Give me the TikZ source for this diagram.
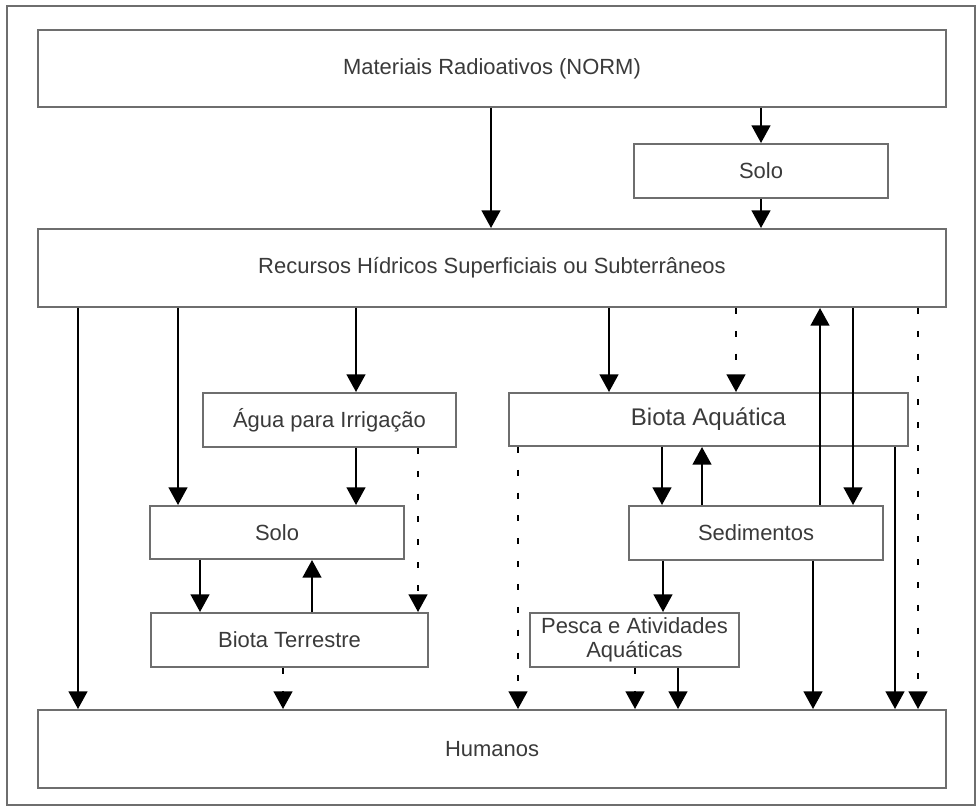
\documentclass[tikz,border=0pt]{standalone}
\usepackage{fontspec}
\setmainfont{Liberation Sans}
\usepackage{tikz}
\usetikzlibrary{arrows.meta}
\definecolor{boxgray}{HTML}{6E6E6E}
\definecolor{txtgray}{HTML}{3A3A3A}
\tikzstyle{block} = [draw=boxgray, line width=1.1pt, fill=white, rectangle, text=txtgray, inner sep=0pt, font=\fontsize{12.5}{13.7}\selectfont]
\tikzstyle{flow} = [->, line width=1.5pt]
\tikzstyle{maybe} = [->, line width=1.5pt, dash pattern=on 3.4pt off 9.6pt]

\begin{document}
\begin{tikzpicture}[>={Triangle[length=10pt,width=10.5pt]}, x=0.02cm, y=-0.02cm]
    \useasboundingbox (0,0) rectangle (979,808);
    \draw[boxgray, line width=1pt] (7,6) rectangle (975,805);
    \node[block, minimum width=18.16cm, minimum height=1.54cm] (norm) at (492,68.5) {Materiais Radioativos (NORM)};
    \node[block, minimum width=5.08cm, minimum height=1.08cm] (solot) at (761,171) {Solo};
    \node[block, minimum width=18.16cm, minimum height=1.56cm] (rec) at (492,268) {Recursos Hídricos Superficiais ou Subterrâneos};
    \node[block, minimum width=5.06cm, minimum height=1.08cm] (agua) at (329.5,420) {Água para Irrigação};
    \node[block, minimum width=7.98cm, minimum height=1.06cm, font=\fontsize{13.7}{15}\selectfont] (biotaaq) at (708.5,419.5) {Biota Aquática};
    \node[block, minimum width=5.08cm, minimum height=1.06cm] (solob) at (277,532.5) {Solo};
    \node[block, minimum width=5.08cm, minimum height=1.08cm] (sed) at (756,533) {Sedimentos};
    \node[block, minimum width=5.54cm, minimum height=1.08cm] (biotat) at (289.5,640) {Biota Terrestre};
    \node[block, minimum width=4.18cm, minimum height=1.08cm, align=center] (pesca) at (634.5,640) {Pesca e Atividades\\Aquáticas};
    \node[block, minimum width=18.16cm, minimum height=1.56cm] (hum) at (492,749) {Humanos};
    % upper part
    \draw[flow] (norm.south -| 491,0) -- (rec.north -| 491,0);
    \draw[flow] (solot.north |- norm.south) -- (solot.north);
    \draw[flow] (solot.south) -- (solot.south |- rec.north);
    % from water resources
    \draw[flow] (rec.south -| 78,0) -- (hum.north -| 78,0);
    \draw[flow] (rec.south -| 178,0) -- (solob.north -| 178,0);
    \draw[flow] (rec.south -| 356,0) -- (agua.north -| 356,0);
    \draw[flow] (rec.south -| 609,0) -- (biotaaq.north -| 609,0);
    \draw[maybe] (rec.south -| 736,0) -- (biotaaq.north -| 736,0);
    \draw[flow] (sed.north -| 820,0) -- (rec.south -| 820,0);
    \draw[flow] (rec.south -| 853,0) -- (sed.north -| 853,0);
    \draw[maybe] (rec.south -| 918,0) -- (hum.north -| 918,0);
    % terrestrial side
    \draw[flow] (agua.south -| 356,0) -- (solob.north -| 356,0);
    \draw[maybe] (agua.south -| 418,0) -- (biotat.north -| 418,0);
    \draw[flow] (solob.south -| 200,0) -- (biotat.north -| 200,0);
    \draw[flow] (biotat.north -| 312,0) -- (solob.south -| 312,0);
    \draw[maybe] (biotat.south -| 283,0) -- (hum.north -| 283,0);
    % aquatic side
    \draw[flow] (biotaaq.south -| 662,0) -- (sed.north -| 662,0);
    \draw[flow] (sed.north -| 702,0) -- (biotaaq.south -| 702,0);
    \draw[maybe] (biotaaq.south -| 518,0) -- (hum.north -| 518,0);
    \draw[flow] (biotaaq.south -| 895,0) -- (hum.north -| 895,0);
    \draw[flow] (sed.south -| 663,0) -- (pesca.north -| 663,0);
    \draw[flow] (sed.south -| 813,0) -- (hum.north -| 813,0);
    \draw[maybe] (pesca.south -| 635,0) -- (hum.north -| 635,0);
    \draw[flow] (pesca.south -| 678,0) -- (hum.north -| 678,0);
\end{tikzpicture}
\end{document}
